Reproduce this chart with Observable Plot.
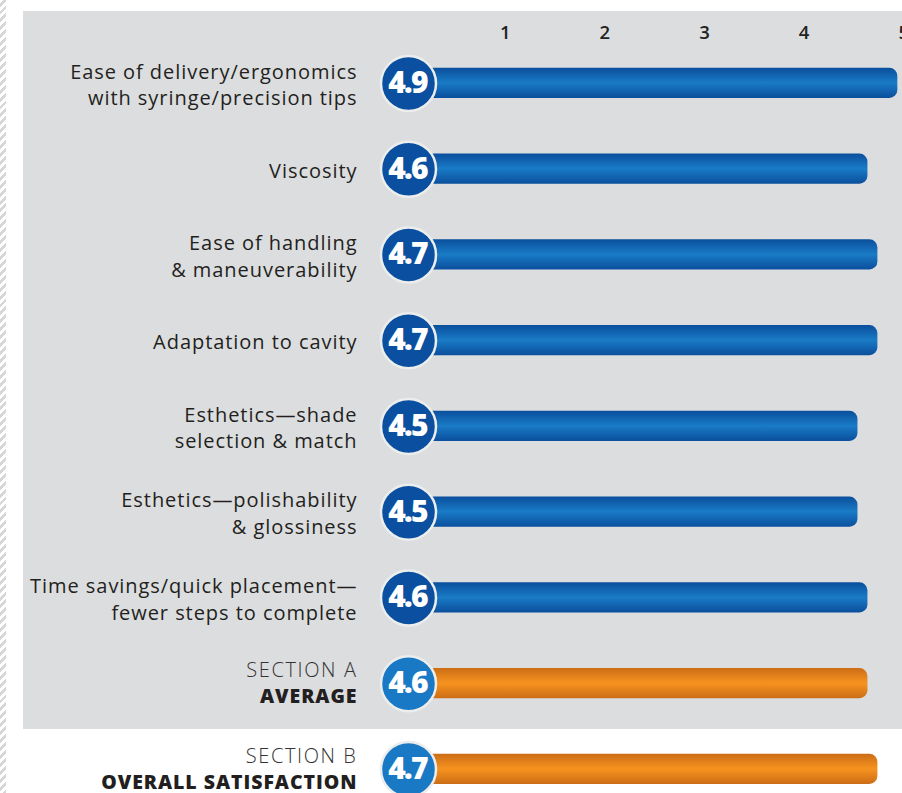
<!DOCTYPE html>
<html><head><meta charset="utf-8">
<script src="https://cdn.jsdelivr.net/npm/d3@7"></script>
<script src="https://cdn.jsdelivr.net/npm/@observablehq/plot@0.6"></script>
<style>
html,body{margin:0;padding:0;background:#fff;}
#wrap{position:relative;width:902px;height:793px;overflow:hidden;font-family:"Open Sans",sans-serif;}
#hatch{position:absolute;left:0;top:0;width:6px;height:793px;background:repeating-linear-gradient(-45deg,#d6d7d9 0 2.8px,#fff 2.8px 5.6px);}
#panel{position:absolute;left:23px;top:11px;right:0;height:718px;background:#dcdddf;}
#chart{position:absolute;left:0;top:0;}
g[aria-description="badge"] text{letter-spacing:-1.8px;}
g[aria-description="row-label"] text, g[aria-description="row-sub"] text{letter-spacing:0.95px;}
g[aria-description="row-title"] text{letter-spacing:1.6px;}
</style></head><body>
<div id="wrap"><div id="hatch"></div><div id="panel"></div><div id="chart"></div></div>
<script>
// ---- data ----
const items = [
  "Ease of delivery/ergonomics\nwith syringe/precision tips",
  "Viscosity",
  "Ease of handling\n& maneuverability",
  "Adaptation to cavity",
  "Esthetics\u2014shade\nselection & match",
  "Esthetics\u2014polishability\n& glossiness",
  "Time savings/quick placement\u2014\nfewer steps to complete"
];
const itemScores = [4.9, 4.6, 4.7, 4.7, 4.5, 4.5, 4.6];
const summaryTitles = ["SECTION A", "SECTION B"];
const summarySubtitles = ["AVERAGE", "OVERALL SATISFACTION"];
const summaryScores = [4.6, 4.7];
const axisTicks = [1, 2, 3, 4, 5];

// ---- tables ----
const itemRows = items.map((label, i) => ({label, value: itemScores[i]}));
const summaryRows = summaryTitles.map((label, i) => ({label, sub: summarySubtitles[i], value: summaryScores[i]}));
const rowOrder = [...items, ...summaryTitles];

const chart = Plot.plot({
  width: 902, height: 793,
  marginLeft: 0, marginRight: 0, marginTop: 43, marginBottom: 0,
  style: {background: "transparent", fontFamily: "'Open Sans', sans-serif", fontSize: "16px", color: "#222"},
  x: {domain: [0, 5], range: [405, 903.3], axis: null},
  y: {domain: rowOrder, range: [40, 811.75], paddingInner: 0.65, paddingOuter: 0.325, round: false, axis: null},
  marks: [
    Plot.text(axisTicks, {x: d => d, frameAnchor: "top", lineAnchor: "middle", dy: -10.5, text: d => String(d), fontSize: 18.5, fontWeight: 600, fill: "#222"}),
    Plot.barX(itemRows, {x: "value", y: "label", fill: "url(#gBlue)", rx: 8, insetRight: -4}),
    Plot.barX(summaryRows, {x: "value", y: "label", fill: "url(#gOrange)", rx: 8, insetRight: -4}),
    Plot.dot(itemRows, {x: () => 0, y: "label", r: 27.5, dx: 3, fill: "#0b50a0", stroke: "#eceded", strokeWidth: 2.5}),
    Plot.dot(summaryRows, {x: () => 0, y: "label", r: 27.5, dx: 3, fill: "#1a79c4", stroke: "#eceded", strokeWidth: 2.5}),
    Plot.text([...itemRows, ...summaryRows], {x: () => 0, y: "label", text: d => d.value.toFixed(1), dx: 2, fill: "white", fontSize: 30, fontWeight: 800, ariaDescription: "badge"}),
    Plot.text(itemRows, {x: () => 0, y: "label", text: "label", textAnchor: "end", dx: -48, fontSize: 20, lineHeight: 1.32, fill: "#231f20", ariaDescription: "row-label"}),
    Plot.text(summaryRows, {x: () => 0, y: "label", text: "label", textAnchor: "end", dx: -48, dy: -13, fontSize: 20, fontWeight: 300, fill: "#333", ariaDescription: "row-title"}),
    Plot.text(summaryRows, {x: () => 0, y: "label", text: "sub", textAnchor: "end", dx: -48, dy: 13.5, fontSize: 19.5, fontWeight: 800, fill: "#231f20", ariaDescription: "row-sub"})
  ]
});

const svg = d3.select(chart);
// fallback styling by mark order if aria-description is not emitted
const textGroups = svg.selectAll('g[aria-label="text"]').nodes();
const spacing = [null, "-1.8px", "0.95px", "1.6px", "0.95px"];
textGroups.forEach((g, i) => { if (spacing[i]) g.style.letterSpacing = spacing[i]; });

const defs = svg.insert("defs", ":first-child");
function grad(id, edge, mid) {
  const g = defs.append("linearGradient").attr("id", id).attr("x1", 0).attr("y1", 0).attr("x2", 0).attr("y2", 1);
  g.append("stop").attr("offset", "0%").attr("stop-color", edge);
  g.append("stop").attr("offset", "50%").attr("stop-color", mid);
  g.append("stop").attr("offset", "100%").attr("stop-color", edge);
}
grad("gBlue", "#0a4f9d", "#1a7bc6");
grad("gOrange", "#cc6d16", "#f6931f");
document.getElementById("chart").appendChild(chart);
</script>
</body></html>
